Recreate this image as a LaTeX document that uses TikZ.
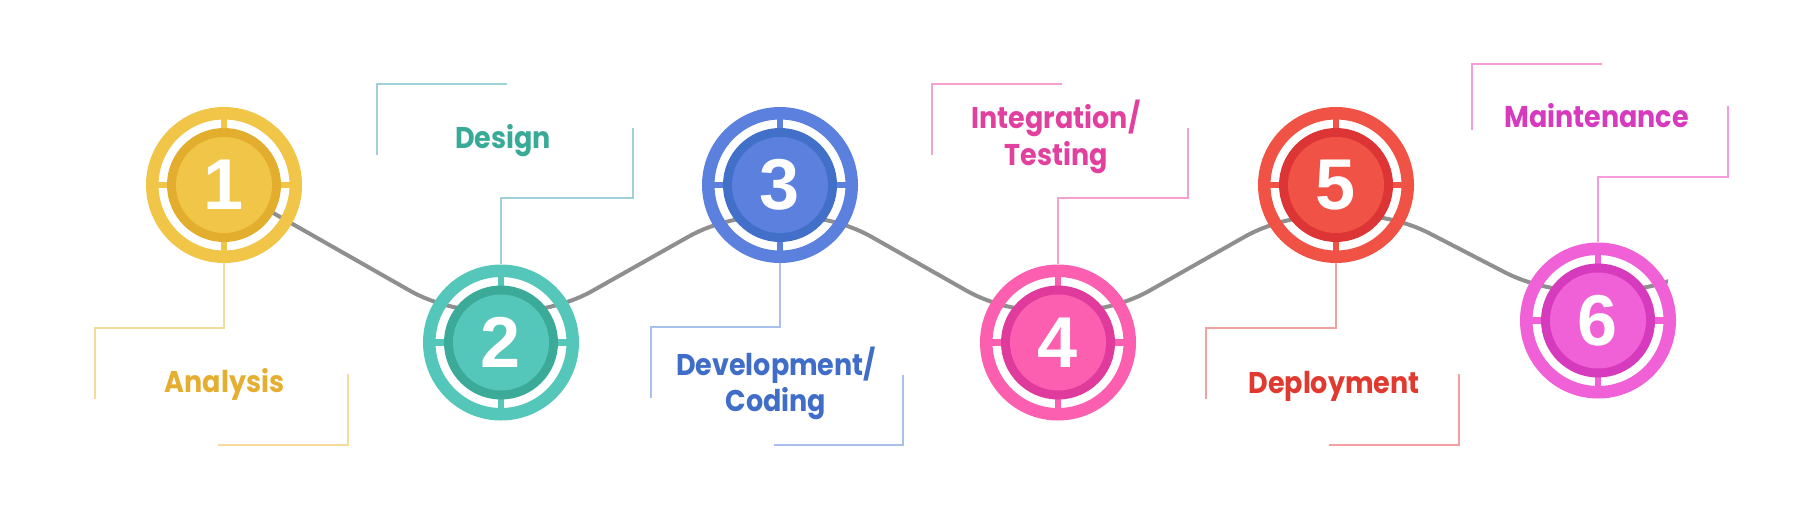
\documentclass[tikz,border=0pt]{standalone}
\usepackage{fontspec}
\newfontfamily\numfont{Liberation Sans}
\newfontfamily\labfont[FakeStretch=0.9]{Poppins}
\usetikzlibrary{calc}
\definecolor{y1}{HTML}{F0C548}\definecolor{y2}{HTML}{E3AE2E}\definecolor{yt}{HTML}{E6AE30}\definecolor{yl}{HTML}{F6DB9C}
\definecolor{t1}{HTML}{55C6BA}\definecolor{t2}{HTML}{3BAA98}\definecolor{tt}{HTML}{3AAA98}\definecolor{tl}{HTML}{9ED2D8}
\definecolor{b1}{HTML}{5B80DE}\definecolor{b2}{HTML}{4270C8}\definecolor{bt}{HTML}{3F6DC8}\definecolor{bl}{HTML}{A9C0EC}
\definecolor{p1}{HTML}{FC5EB0}\definecolor{p2}{HTML}{E03A9C}\definecolor{pt}{HTML}{E2409F}\definecolor{pl}{HTML}{F6A0D2}
\definecolor{r1}{HTML}{F05345}\definecolor{r2}{HTML}{DD3535}\definecolor{rt}{HTML}{E03A30}\definecolor{rl}{HTML}{F5A0A0}
\definecolor{m1}{HTML}{F060D6}\definecolor{m2}{HTML}{D63ABD}\definecolor{mt}{HTML}{D63ABE}\definecolor{ml}{HTML}{F49CDC}
\definecolor{wave}{HTML}{8F8F8F}
\tikzset{
  numdisk/.style={circle, minimum size=96pt, inner sep=0pt, text=white,
    font=\numfont\bfseries\fontsize{72}{72}\selectfont},
  brk/.style={line width=1.3pt},
  lab/.style={anchor=base, inner sep=0pt, font=\labfont\bfseries\fontsize{30}{30}\selectfont},
  waveline/.style={draw=wave, line width=4pt, rounded corners=105pt}
}
\newcommand\ringnode[6]{%
  \begin{scope}[shift={(#2,#3)}]
    \draw[#4, line width=12.5pt] (0,0) circle (71.75pt);
    \fill[#4] (-3.2pt,-77pt) rectangle (3.2pt,77pt);
    \fill[#4] (-77pt,-3.2pt) rectangle (77pt,3.2pt);
    \fill[#5] (0,0) circle (57pt);
  \end{scope}
  \node[numdisk, fill=#4] (#1) at (#2,#3) {#6};
}
\begin{document}
\begin{tikzpicture}[x=1pt, y=-1pt]
\useasboundingbox (0,0) rectangle (1820,504);
\coordinate (p1) at (224,185);
\coordinate (p2) at (501,342.5);
\coordinate (p3) at (780,185);
\coordinate (p4) at (1058,342.5);
\coordinate (p5) at (1336,185);
\coordinate (p6) at (1598,320.5);
\coordinate (lineend) at (1860,183);
% wave connector
\begin{scope}
  \clip (0,0) rectangle (1668,504);
  \path[waveline] (p1) -- (p2) -- (p3) -- (p4) -- (p5) -- (p6) -- (lineend);
\end{scope}
% circles
\ringnode{n1}{224}{185}{y1}{y2}{1}
\ringnode{n2}{501}{342.5}{t1}{t2}{2}
\ringnode{n3}{780}{185}{b1}{b2}{3}
\ringnode{n4}{1058}{342.5}{p1}{p2}{4}
\ringnode{n5}{1336}{185}{r1}{r2}{5}
\ringnode{n6}{1598}{320.5}{m1}{m2}{6}
% brackets
\draw[brk, yl] ([yshift=-30pt]n1.south) -- (224,328) -- (95,328) -- (95,399);
\draw[brk, yl] (348,374) -- (348,445) -- (218,445);
\draw[brk, tl] (507,84) -- (377,84) -- (377,155);
\draw[brk, tl] (633,128) -- (633,198) -- (501,198) -- ([yshift=30pt]n2.north);
\draw[brk, bl] ([yshift=-30pt]n3.south) -- (780,327) -- (651,327) -- (651,398);
\draw[brk, bl] (903,375) -- (903,445) -- (774,445);
\draw[brk, pl] (1062,84) -- (932,84) -- (932,155);
\draw[brk, pl] (1188,128) -- (1188,198) -- (1058,198) -- ([yshift=30pt]n4.north);
\draw[brk, rl] ([yshift=-30pt]n5.south) -- (1336,328) -- (1206,328) -- (1206,399);
\draw[brk, rl] (1459,374) -- (1459,445) -- (1329,445);
\draw[brk, ml] (1602,64) -- (1472,64) -- (1472,130);
\draw[brk, ml] (1728,106) -- (1728,177) -- (1598,177) -- ([yshift=30pt]n6.north);
% labels
\node[lab, text=yt] (l1) at (224.5,392.7) {Analysis};
\node[lab, text=tt] (l2) at (503,148) {Design};
\node[lab, text=bt] (l3a) at (776,375) {Development/};
\node[lab, text=bt] (l3b) at (776,411.7) {Coding};
\node[lab, text=pt] (l4a) at (1056,128.3) {Integration/};
\node[lab, text=pt] (l4b) at (1056,165) {Testing};
\node[lab, text=rt] (l5) at (1334,393.3) {Deployment};
\node[lab, text=mt] (l6) at (1596.5,127.3) {Maintenance};
\end{tikzpicture}
\end{document}
